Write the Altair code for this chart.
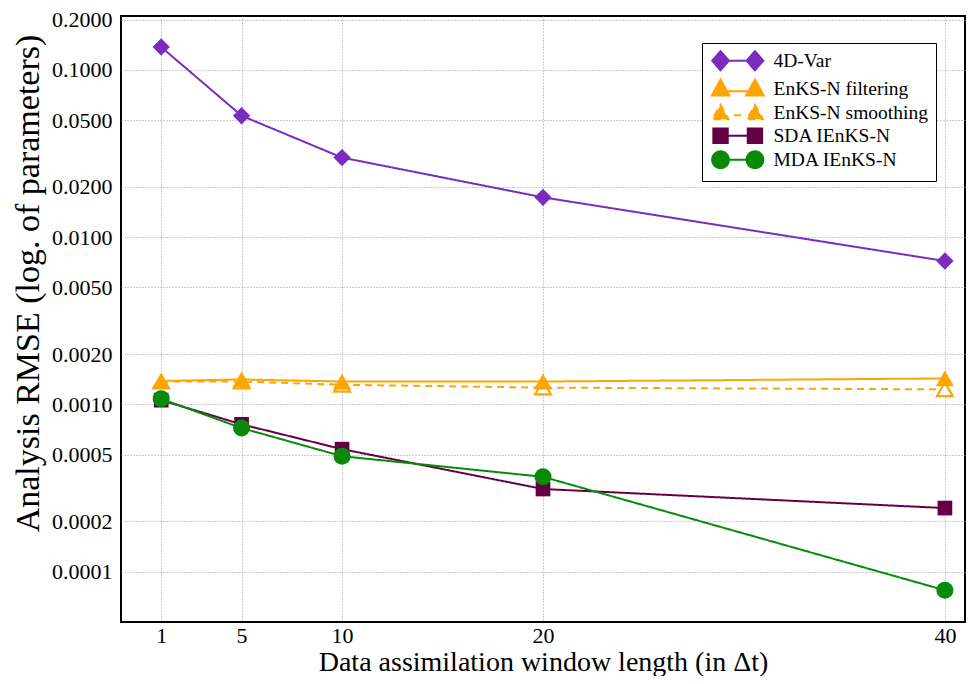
import altair as alt
import pandas as pd

# ---------------- data ----------------
window_lengths = [1, 5, 10, 20, 40]
series_names = ["4D-Var", "EnKS-N filtering", "EnKS-N smoothing", "SDA IEnKS-N", "MDA IEnKS-N"]
rmse_4dvar = [0.137, 0.0532, 0.0299, 0.0173, 0.0072]
rmse_enks_filter = [0.00138, 0.00141, 0.00137, 0.00137, 0.00143]
rmse_enks_smooth = [0.00137, 0.00137, 0.00131, 0.00126, 0.00123]
rmse_sda_ienks = [0.00106, 0.00076, 0.00054, 0.000312, 0.00024]
rmse_mda_ienks = [0.00108, 0.000722, 0.00049, 0.000369, 0.0000774]
y_tick_values = [0.0001, 0.0002, 0.0005, 0.001, 0.002, 0.005, 0.01, 0.02, 0.05, 0.1, 0.2]
x_tick_values = [1, 5, 10, 20, 40]

all_series = [rmse_4dvar, rmse_enks_filter, rmse_enks_smooth, rmse_sda_ienks, rmse_mda_ienks]
rows = []
for name, vals in zip(series_names, all_series):
    for w, v in zip(window_lengths, vals):
        rows.append({"series": name, "window": w, "rmse": v})
df = pd.DataFrame(rows)

# ---------------- styles ----------------
FONT = "Liberation Serif"
colors = ["#7b2cbf", "#ffa500", "#ffa500", "#660046", "#0a8a0a"]
color_scale = alt.Scale(domain=series_names, range=colors)
dash_scale = alt.Scale(domain=series_names, range=[[1, 0], [1, 0], [7, 5], [1, 0], [1, 0]])

marker_style = {
    "4D-Var": dict(shape="diamond", size=300, filled=True, strokeWidth=0, opacity=1),
    "EnKS-N filtering": dict(shape="triangle-up", size=330, filled=True, strokeWidth=0, opacity=1),
    "EnKS-N smoothing": dict(shape="triangle-up", size=250, filled=False, fill="white", strokeWidth=2.2, opacity=1),
    "SDA IEnKS-N": dict(shape="square", size=216, filled=True, strokeWidth=0, opacity=1),
    "MDA IEnKS-N": dict(shape="circle", size=290, filled=True, strokeWidth=0, opacity=1),
}
draw_order = ["4D-Var", "EnKS-N smoothing", "EnKS-N filtering", "SDA IEnKS-N", "MDA IEnKS-N"]

# legend symbols: marker - line - marker (custom paths in unit coords)
legend_paths = [
    "M-2.15,0L2.15,0M-2.15,-1.2L-1.1,0L-2.15,1.2L-3.2,0ZM2.15,-1.2L3.2,0L2.15,1.2L1.1,0Z",
    "M-2.15,0.3L2.15,0.3M-2.15,-1.15L-1.05,0.85L-3.25,0.85ZM2.15,-1.15L3.25,0.85L1.05,0.85Z",
    "M-0.45,0.3L0.85,0.3M-2.15,-1.0L-1.15,0.8L-3.15,0.8ZM2.15,-1.0L3.15,0.8L1.15,0.8Z",
    "M-2.15,0L2.15,0M-3.05,-0.9L-1.25,-0.9L-1.25,0.9L-3.05,0.9ZM1.25,-0.9L3.05,-0.9L3.05,0.9L1.25,0.9Z",
    "M-2.15,0L2.15,0M-3.2,0A1.05,1.05 0 1,0 -1.1,0A1.05,1.05 0 1,0 -3.2,0ZM1.1,0A1.05,1.05 0 1,0 3.2,0A1.05,1.05 0 1,0 1.1,0Z",
]
legend_fills = ["#7b2cbf", "#ffa500", "white", "#660046", "#0a8a0a"]

x_enc = alt.X(
    "window:Q",
    scale=alt.Scale(domain=[-1, 41], nice=False, zero=False),
    axis=alt.Axis(values=x_tick_values, format="d", title="Data assimilation window length (in Δt)",
                  labelFontSize=22, titleFontSize=28, labelPadding=3,
                  titleY=54, titleBaseline="bottom"),
)
y_enc = alt.Y(
    "rmse:Q",
    scale=alt.Scale(type="log", domain=[0.00005, 0.21], nice=False),
    axis=alt.Axis(values=y_tick_values, format=".4f", title="Analysis RMSE (log. of parameters)",
                  labelFontSize=22, titleFontSize=34, labelPadding=9,
                  titleX=-93, titleY=267, titleBaseline="middle"),
)
color_enc = alt.Color("series:N", scale=color_scale, legend=None)

legend_props = dict(
    title=None, orient="none", legendX=581, legendY=27,
    labelFont=FONT, labelFontSize=19.5, labelColor="black", labelFontWeight="normal",
    strokeColor="black", fillColor="white", padding=8,
    symbolSize=256, symbolStrokeWidth=2, symbolOffset=18, labelOffset=26,
    symbolOpacity=1, rowPadding=0, labelLimit=400,
)
legend_layer = (
    alt.Chart(df)
    .transform_filter("false")
    .mark_point(filled=False, size=256, strokeWidth=2, opacity=1)
    .encode(
        shape=alt.Shape("series:N", scale=alt.Scale(domain=series_names, range=legend_paths),
                        legend=alt.Legend(**legend_props)),
        color=alt.Color("series:N", scale=color_scale, legend=alt.Legend(**legend_props)),
        fill=alt.Fill("series:N", scale=alt.Scale(domain=series_names, range=legend_fills),
                      legend=alt.Legend(**legend_props)),
    )
)

layers = [legend_layer]
for name in draw_order:
    base = alt.Chart(df).transform_filter(alt.datum.series == name)
    line = base.mark_line(strokeWidth=2).encode(
        x=x_enc, y=y_enc, color=color_enc,
        strokeDash=alt.StrokeDash("series:N", scale=dash_scale, legend=None),
    )
    pts = base.mark_point(**marker_style[name]).encode(x=x_enc, y=y_enc, color=color_enc)
    layers += [line, pts]

chart = (
    alt.layer(*layers)
    .properties(
        width=844, height=606,
        padding={"left": 113, "top": 8, "right": 4, "bottom": 54},
        autosize=alt.AutoSizeParams(type="none"),
        background="white",
    )
    .configure_view(stroke="black", strokeWidth=2)
    .configure_axis(
        labelFont=FONT, titleFont=FONT, labelColor="black", titleColor="black",
        titleFontWeight="normal", domain=False, ticks=False,
        grid=True, gridColor="#999999", gridDash=[1, 2], gridWidth=1,
    )
    .configure_legend(
        labelFont=FONT, labelFontSize=19.5, labelColor="black",
        symbolOpacity=1, symbolStrokeWidth=2, rowPadding=0,
    )
)

chart.save("out.html", embed_options={"renderer": "svg", "actions": False})
